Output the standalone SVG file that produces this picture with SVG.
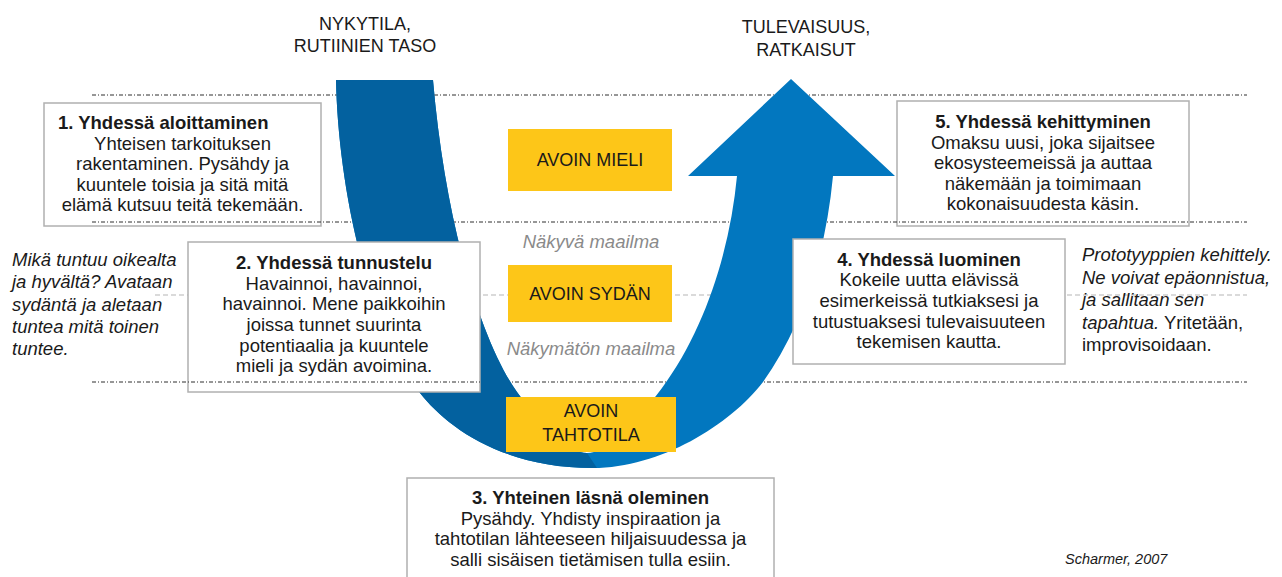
<svg xmlns="http://www.w3.org/2000/svg" width="1282" height="577" viewBox="0 0 1282 577">
<style>
text{font-family:"Liberation Sans",Arial,Helvetica,sans-serif;fill:#1a1a1a}
.t{font-size:18.5px;text-anchor:middle}
.b{font-weight:bold}
.top{font-size:18px;text-anchor:middle}
.y{font-size:18px;text-anchor:middle}
.g{font-size:18.5px;font-style:italic;fill:#8a8a8a;text-anchor:middle}
.it{font-size:18.5px;font-style:italic}
.box{fill:#fff;stroke:#b0b0b0;stroke-width:1.5}
.yel{fill:#fdc618}
.dd{stroke:#2e2e2e;stroke-width:1;stroke-dasharray:4 2 1 2;fill:none}
.gd{stroke:#b5b5b5;stroke-width:1;stroke-dasharray:5 3;fill:none}
</style>
<defs>
<path id="u" d="M336,80 L433,80 C445,220 480,340 517,392 C545,430 570,453 587,453 C605,453 630,430 662,388 C705,330 730,250 737,176 L688,176 L791,79 L895,176 L833,176 C825,260 800,330 763,382 C730,425 660,468 593,468 C500,468 445,425 420,393 C365,320 338,180 336,80 Z"/>
<clipPath id="uc"><use href="#u"/></clipPath>
<mask id="lm" maskUnits="userSpaceOnUse" x="0" y="0" width="1282" height="577">
<rect x="0" y="0" width="1282" height="577" fill="#fff"/>
<use href="#u" fill="#000"/>
<rect x="188" y="242" width="292" height="150" fill="#fff"/>
</mask>
</defs>
<rect width="1282" height="577" fill="#fff"/>
<line class="gd" x1="155" y1="295" x2="1247" y2="295"/>
<g id="flow">
<use href="#u" fill="#0277bf"/>
<path d="M300,60 L560,60 L587,453 L605,480 L300,480 Z" fill="#03619f" clip-path="url(#uc)"/>
</g>
<g id="yellow">
<g id="mieli"><rect class="yel" x="508" y="129" width="164" height="62"/><text class="y" x="590" y="166">AVOIN MIELI</text></g>
<g id="sydan"><rect class="yel" x="508" y="265" width="164" height="57"/><text class="y" x="590" y="300">AVOIN SYDÄN</text></g>
<g id="tahto"><rect class="yel" x="506" y="397" width="170" height="55"/><text class="y" x="591" y="417">AVOIN</text><text class="y" x="591" y="441">TAHTOTILA</text></g>
</g>
<g id="worlds">
<text class="g" x="591" y="248">Näkyvä maailma</text>
<text class="g" x="591" y="355">Näkymätön maailma</text>
</g>
<g id="heads">
<text class="top" x="365" y="30">NYKYTILA,</text>
<text class="top" x="365" y="52">RUTIINIEN TASO</text>
<text class="top" x="806" y="33">TULEVAISUUS,</text>
<text class="top" x="806" y="56">RATKAISUT</text>
</g>
<g id="box1">
<rect class="box" x="44" y="103" width="277" height="123"/>
<text class="t b" x="58" y="129" style="text-anchor:start">1. Yhdessä aloittaminen</text>
<text class="t" x="182.5" y="149.5">Yhteisen tarkoituksen</text>
<text class="t" x="182.5" y="170">rakentaminen. Pysähdy ja</text>
<text class="t" x="182.5" y="190.5">kuuntele toisia ja sitä mitä</text>
<text class="t" x="182.5" y="211">elämä kutsuu teitä tekemään.</text>
</g>
<g id="box2">
<rect class="box" x="188" y="242" width="292" height="150"/>
<text class="t b" x="334" y="269">2. Yhdessä tunnustelu</text>
<text class="t" x="334" y="289.5">Havainnoi, havainnoi,</text>
<text class="t" x="334" y="310">havainnoi. Mene paikkoihin</text>
<text class="t" x="334" y="331">joissa tunnet suurinta</text>
<text class="t" x="334" y="351.5">potentiaalia ja kuuntele</text>
<text class="t" x="334" y="372">mieli ja sydän avoimina.</text>
</g>
<g id="box3">
<rect class="box" x="407" y="478" width="367" height="110"/>
<text class="t b" x="590.5" y="504">3. Yhteinen läsnä oleminen</text>
<text class="t" x="590.5" y="524.5">Pysähdy. Yhdisty inspiraation ja</text>
<text class="t" x="590.5" y="545">tahtotilan lähteeseen hiljaisuudessa ja</text>
<text class="t" x="590.5" y="565.5">salli sisäisen tietämisen tulla esiin.</text>
</g>
<g id="box4">
<rect class="box" x="793" y="239" width="272" height="125"/>
<text class="t b" x="929" y="266">4. Yhdessä luominen</text>
<text class="t" x="929" y="286">Kokeile uutta elävissä</text>
<text class="t" x="929" y="307">esimerkeissä tutkiaksesi ja</text>
<text class="t" x="929" y="327.5">tutustuaksesi tulevaisuuteen</text>
<text class="t" x="929" y="348">tekemisen kautta.</text>
</g>
<g id="box5">
<rect class="box" x="897" y="101" width="292" height="125"/>
<text class="t b" x="1043" y="128">5. Yhdessä kehittyminen</text>
<text class="t" x="1043" y="148.5">Omaksu uusi, joka sijaitsee</text>
<text class="t" x="1043" y="169">ekosysteemeissä ja auttaa</text>
<text class="t" x="1043" y="189.5">näkemään ja toimimaan</text>
<text class="t" x="1043" y="210">kokonaisuudesta käsin.</text>
</g>
<g id="note-left">
<text class="it" x="12" y="266">Mikä tuntuu oikealta</text>
<text class="it" x="12" y="288">ja hyvältä? Avataan</text>
<text class="it" x="12" y="311">sydäntä ja aletaan</text>
<text class="it" x="12" y="333">tuntea mitä toinen</text>
<text class="it" x="12" y="355">tuntee.</text>
</g>
<g id="note-right">
<text class="it" x="1082" y="261">Prototyyppien kehittely.</text>
<text class="it" x="1082" y="283.5">Ne voivat epäonnistua,</text>
<text class="it" x="1082" y="306">ja sallitaan sen</text>
<text class="it" x="1082" y="328.5">tapahtua.<tspan style="font-style:normal"> Yritetään,</tspan></text>
<text x="1082" y="351" style="font-size:18.5px">improvisoidaan.</text>
</g>
<g id="levels" mask="url(#lm)">
<line class="dd" x1="92" y1="95" x2="1247" y2="95"/>
<line class="dd" x1="92" y1="222" x2="1247" y2="222"/>
<line class="dd" x1="92" y1="382" x2="1247" y2="382"/>
</g>
<text x="1065" y="564" style="font-size:14.5px;font-style:italic">Scharmer, 2007</text>
</svg>
